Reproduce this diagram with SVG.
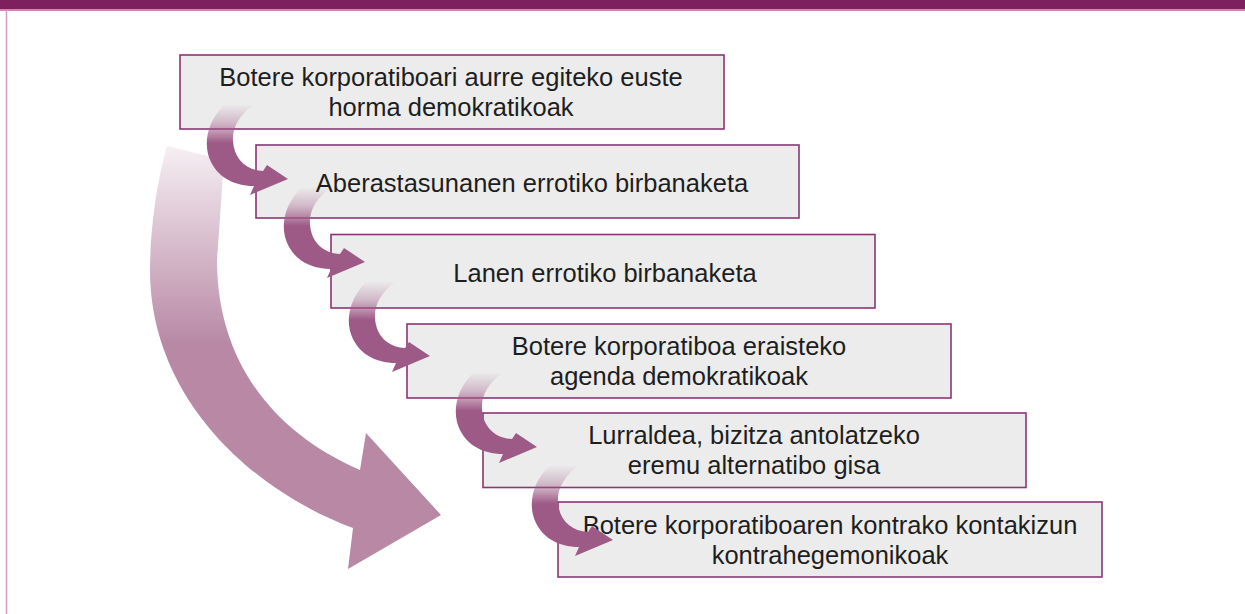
<svg xmlns="http://www.w3.org/2000/svg" width="1245" height="614" viewBox="0 0 1245 614">
  <style>
    .box { fill: #ECECEC; stroke: #8C3574; stroke-width: 1.6; }
    .lbl { font-family: "Liberation Sans", Arial, sans-serif; font-size: 25.5px; fill: #1E1E1E; text-anchor: middle; }
  </style>
  <defs>
    <linearGradient id="bigGrad" x1="0" y1="0" x2="0" y2="1">
      <stop offset="0" stop-color="#F6EFF3"/>
      <stop offset="0.47" stop-color="#B888A5"/>
      <stop offset="1" stop-color="#B888A5"/>
    </linearGradient>
    <linearGradient id="smallGrad" x1="0" y1="0" x2="0" y2="1">
      <stop offset="0" stop-color="#9E5A86" stop-opacity="0.02"/>
      <stop offset="0.2" stop-color="#9E5A86" stop-opacity="0.35"/>
      <stop offset="0.42" stop-color="#9E5A86" stop-opacity="1"/>
      <stop offset="1" stop-color="#9E5A86" stop-opacity="1"/>
    </linearGradient>
    <path id="smallArrow" fill="url(#smallGrad)" d="M -64,-74 C -78,-60 -84,-42 -80,-25 C -74,-3 -55,7 -34,7 L -38,16 L 0,0 L -21,-14 L -25,-8 C -42,-9 -54,-20 -55,-38 C -56,-52 -48,-64 -35,-74 Z"/>
  </defs>

  <!-- frame -->
  <rect x="0" y="0" width="1245" height="9.5" fill="#7E1F5E"/>
  <line x1="0" y1="10.3" x2="1245" y2="10.3" stroke="#C48BB3" stroke-width="1.5"/>
  <line x1="6.5" y1="10" x2="6.5" y2="614" stroke="#D49BC2" stroke-width="1.5"/>

  <!-- big arrow -->
  <g id="bigArrow">
    <path fill="url(#bigGrad)" d="M 167,146 C 157,180 150,230 150,272 C 151,397 250,490 353,528 L 348,569 L 441,515 L 366,433 L 360,470 C 272,432 217,360 217,260 L 224,160 Z"/>
  </g>

  <g id="node1">
    <rect class="box" x="180" y="55" width="544" height="74"/>
    <text class="lbl" x="451" y="85.5">Botere korporatiboari aurre egiteko euste</text>
    <text class="lbl" x="451" y="115.5">horma demokratikoak</text>
  </g>
  <g id="node2">
    <rect class="box" x="256" y="145" width="543" height="73"/>
    <text class="lbl" x="532" y="192">Aberastasunanen errotiko birbanaketa</text>
  </g>
  <g id="node3">
    <rect class="box" x="331" y="234.5" width="544" height="73.5"/>
    <text class="lbl" x="605" y="282">Lanen errotiko birbanaketa</text>
  </g>
  <g id="node4">
    <rect class="box" x="407" y="324" width="544" height="74"/>
    <text class="lbl" x="679" y="355">Botere korporatiboa eraisteko</text>
    <text class="lbl" x="679" y="385">agenda demokratikoak</text>
  </g>
  <g id="node5">
    <rect class="box" x="483" y="413" width="543" height="74.5"/>
    <text class="lbl" x="754" y="444">Lurraldea, bizitza antolatzeko</text>
    <text class="lbl" x="754" y="474">eremu alternatibo gisa</text>
  </g>
  <g id="node6">
    <rect class="box" x="558" y="502" width="544" height="75"/>
    <text class="lbl" x="830" y="533.5">Botere korporatiboaren kontrako kontakizun</text>
    <text class="lbl" x="830" y="563.5">kontrahegemonikoak</text>
  </g>

  <g id="connectors">
    <use href="#smallArrow" transform="translate(288,179)"/>
    <use href="#smallArrow" transform="translate(365,262)"/>
    <use href="#smallArrow" transform="translate(430,356)"/>
    <use href="#smallArrow" transform="translate(537,447)"/>
    <use href="#smallArrow" transform="translate(613,540)"/>
  </g>
</svg>
